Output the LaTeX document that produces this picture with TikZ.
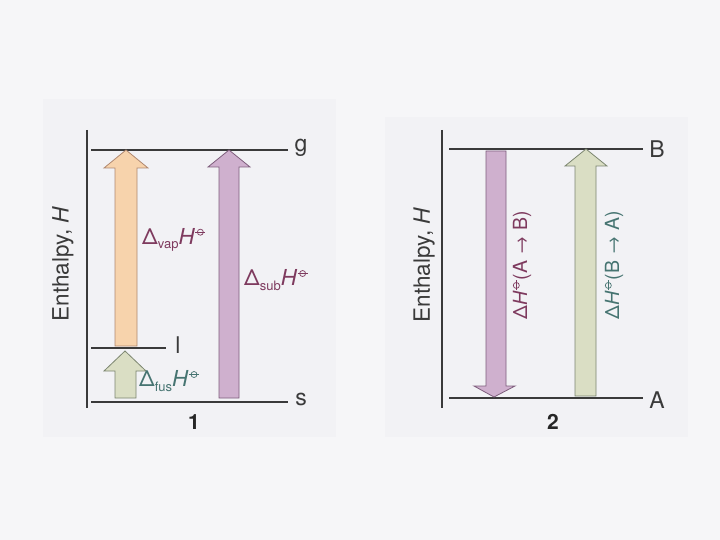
\documentclass[tikz,border=0pt]{standalone}
\usepackage{fontspec}
\setmainfont{TeX Gyre Heros}
\definecolor{pagebg}{HTML}{F6F6F8}
\definecolor{panelbg}{HTML}{F2F2F5}
\definecolor{linec}{HTML}{3A3A3A}
\definecolor{orangef}{HTML}{F7D3AC}
\definecolor{oranged}{HTML}{B08870}
\definecolor{purplef}{HTML}{CFB0CE}
\definecolor{purpled}{HTML}{7E5E7C}
\definecolor{greenf}{HTML}{DADEC4}
\definecolor{greend}{HTML}{7C8670}
\definecolor{labred}{HTML}{7E3A5E}
\definecolor{labteal}{HTML}{467471}
\newcommand\stdo{\tikz[baseline=-0.55em,line width=0.7pt]{\draw (0,0) circle (3pt); \draw (-5pt,0) -- (5pt,0);}}
\newcommand\subtx[1]{\raisebox{-0.4ex}{\fontsize{13}{14}\selectfont #1}}
\tikzset{
  level/.style={draw=linec, line width=1.2pt},
  axisl/.style={draw=linec, line width=1.2pt},
  statelab/.style={font=\fontsize{23}{24}\selectfont, text=linec, inner sep=0pt},
  axislab/.style={font=\fontsize{22.5}{24}\selectfont, text=linec, rotate=90, inner sep=0pt},
  numlab/.style={font=\bfseries\fontsize{21}{24}\selectfont, text=black!85, inner sep=0pt},
  dlab/.style={font=\fontsize{22}{24}\selectfont, inner sep=0pt},
  rlab/.style={font=\fontsize{19.5}{22}\selectfont, inner sep=0pt, rotate=90},
  arr/.style={line width=0.8pt, line join=miter}
}
\begin{document}
\begin{tikzpicture}[x=1pt,y=-1pt]
\useasboundingbox (0,0) rectangle (720,540);
\fill[pagebg] (0,0) rectangle (720,540);
\fill[panelbg] (43,99) rectangle (336,437);
\fill[panelbg] (385,117) rectangle (688,437);

% ---------- Panel 1 ----------
\draw[axisl] (87,130) -- (87,408);
\draw[level] (91,150) -- (288,150);
\draw[level] (91,348) -- (166,348);
\draw[level] (91,402) -- (288,402);
\node[statelab] (g) at (301,148) {g};
\node[statelab] (l) at (178,345) {l};
\node[statelab] (s) at (301,399) {s};
\node[axislab] (ax1) at (63,264) {Enthalpy, \textit{H}};
\node[numlab] (n1) at (194,422) {1};

% vap arrow
\draw[arr, draw=oranged, fill=orangef]
  (115,346) -- (115,168) -- (104,168) -- (126,150) -- (148,168) -- (137,168) -- (137,346) -- cycle;
% fus arrow
\draw[arr, draw=greend, fill=greenf]
  (115,398) -- (115,371) -- (104,371) -- (125,351) -- (146,371) -- (136,371) -- (136,398) -- cycle;
% sub arrow
\draw[arr, draw=purpled, fill=purplef]
  (219,398) -- (219,167) -- (208,167) -- (229,150) -- (250,167) -- (239,167) -- (239,398) -- cycle;

\node[dlab, text=labred, anchor=west] (vap) at (142,240) {Δ\subtx{vap}\textit{H}\stdo};
\node[dlab, text=labred, anchor=west] (sub) at (244,280) {Δ\subtx{sub}\textit{H}\stdo};
\node[dlab, text=labteal, anchor=west] (fus) at (139,381) {Δ\subtx{fus}\textit{H}\stdo};

% ---------- Panel 2 ----------
\draw[axisl] (442,130) -- (442,408);
\draw[level] (449,149) -- (643,149);
\draw[level] (449,398) -- (643,398);
\node[statelab] (B) at (657,149) {B};
\node[statelab] (A) at (657,400) {A};
\node[axislab] (ax2) at (424,265) {Enthalpy, \textit{H}};
\node[numlab] (n2) at (553,422) {2};

% A->B arrow (down)
\draw[arr, draw=purpled, fill=purplef]
  (486,151) -- (486,386) -- (474,386) -- (494,397) -- (515,386) -- (506,386) -- (506,151) -- cycle;
% B->A arrow (up)
\draw[arr, draw=greend, fill=greenf]
  (575,396) -- (575,166) -- (565,166) -- (586,149) -- (607,166) -- (596,166) -- (596,396) -- cycle;

\node[rlab, text=labred] (lab1) at (522,265) {Δ\textit{H}\stdo(A → B)};
\node[rlab, text=labteal] (lab2) at (614,265) {Δ\textit{H}\stdo(B → A)};
\end{tikzpicture}
\end{document}
